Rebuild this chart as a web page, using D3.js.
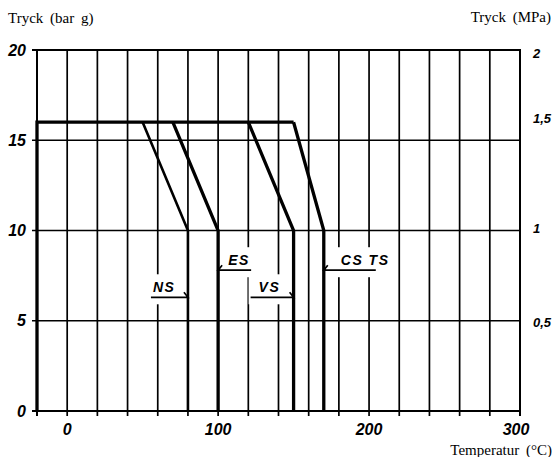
<!DOCTYPE html>
<meta charset="utf-8">
<style>
body { margin: 0; background: #fff; }
.title { font-family: "Liberation Serif", serif; font-size: 15px; word-spacing: 3px; fill: #000; }
.tick-l { font-family: "Liberation Sans", sans-serif; font-weight: bold; font-style: italic; font-size: 16px; }
.tick-r { font-family: "Liberation Sans", sans-serif; font-weight: bold; font-style: italic; font-size: 13px; }
.lbl { font-family: "Liberation Sans", sans-serif; font-weight: bold; font-style: italic; font-size: 14px; letter-spacing: 1.5px; }
</style>
<svg width="555" height="457"></svg>
<script src="https://d3js.org/d3.v7.min.js"></script>
<script>

// grid and tick values
var xGrid = [-20, 0, 20, 40, 60, 80, 100, 120, 140, 160, 180, 200, 220, 240, 260, 280, 300];
var xLabels = [0, 100, 200, 300];
var yGrid = [0, 5, 10, 15, 20];
var yLabels = [0, 5, 10, 15, 20];
var mpaLabels = ["0,5", "1", "1,5", "2"];
var mpaAt = [4.9, 10.1, 16.2, 19.8];   // where the MPa labels sit, in bar

// pressure / temperature curves
var envelope = [[-20, 0], [-20, 16], [150, 16]];
var names = ["NS", "ES", "VS", "CS TS"];
var tStart = [50, 70, 120, 150];   // temp where the curve leaves 16 bar
var tKnee = [80, 100, 150, 170];   // temp at 10 bar, then straight down
var pTop = 16, pKnee = 10;
var labelP = [6.3, 7.8, 6.3, 7.8]; // height of the label underline, bar

var svg = d3.select("svg");

var x = d3.scaleLinear().domain([-20, 300]).range([37, 520]);
var y = d3.scaleLinear().domain([0, 20]).range([411, 50]);

var g = svg.append("g");

// vertical grid lines (with little ticks under the axis)
g.append("g").selectAll("line")
  .data(xGrid)
  .enter().append("line")
    .attr("x1", function(d) { return x(d); })
    .attr("x2", function(d) { return x(d); })
    .attr("y1", y(0) + 5)
    .attr("y2", y(20))
    .attr("stroke", "#000")
    .attr("stroke-width", function(d) { return d == -20 || d == 300 ? 2 : 1.7; });

// horizontal grid lines
g.append("g").selectAll("line")
  .data(yGrid)
  .enter().append("line")
    .attr("x1", x(-20) - 5)
    .attr("x2", x(300) + 1)
    .attr("y1", function(d) { return y(d); })
    .attr("y2", function(d) { return y(d); })
    .attr("stroke", "#000")
    .attr("stroke-width", function(d) { return d == 0 || d == 20 ? 2 : 1.7; });

// tick labels
g.append("g").selectAll("text")
  .data(xLabels)
  .enter().append("text")
    .attr("class", "tick-l")
    .attr("x", function(d) { return d == 300 ? x(d) - 4 : x(d); })
    .attr("y", y(0) + 24)
    .attr("text-anchor", "middle")
    .text(function(d) { return d; });

g.append("g").selectAll("text")
  .data(yLabels)
  .enter().append("text")
    .attr("class", "tick-l")
    .attr("x", 26)
    .attr("y", function(d) { return y(d); })
    .attr("dy", "0.35em")
    .attr("text-anchor", "end")
    .text(function(d) { return d; });

g.append("g").selectAll("text")
  .data(mpaLabels)
  .enter().append("text")
    .attr("class", "tick-r")
    .attr("x", 533)
    .attr("y", function(d, i) { return y(mpaAt[i]); })
    .attr("dy", "0.35em")
    .text(function(d) { return d; });

// axis titles
svg.append("text").attr("class", "title").attr("x", 8).attr("y", 23).text("Tryck (bar g)");
svg.append("text").attr("class", "title").attr("x", 551).attr("y", 22)
  .attr("text-anchor", "end").text("Tryck (MPa)");
svg.append("text").attr("class", "title").attr("x", 552).attr("y", 455)
  .attr("text-anchor", "end").text("Temperatur (°C)");

// curve labels: white box behind, underline with a small hook at the line
var side = [-1, 1, -1, 1];
var lineLen = [37, 33, 43, 52];
var textDx = [-35, 10, -35, 17];

var labels = g.append("g").selectAll("g")
  .data(names)
  .enter().append("g");

labels.each(function(d, i) {
  var lg = d3.select(this),
      lx = x(tKnee[i]),
      uy = y(labelP[i]),
      ex = lx + side[i] * lineLen[i];
  var box = lg.append("rect").attr("fill", "#fff");
  lg.append("text")
    .attr("class", "lbl")
    .attr("x", lx + textDx[i])
    .attr("y", uy - 5)
    .text(d);
  var tb = lg.select("text").node().getBBox();
  var x0 = Math.min(lx, ex, tb.x), x1 = Math.max(lx, ex, tb.x + tb.width);
  box.attr("x", x0 - 2).attr("width", x1 - x0 + 4)
     .attr("y", uy - 23).attr("height", 30);
  lg.append("path")
    .attr("d", "M" + ex + "," + uy + "H" + lx + "l" + (side[i] * 4) + ",-5")
    .attr("fill", "none")
    .attr("stroke", "#000")
    .attr("stroke-width", 1.7);
});

// curves
var line = d3.line()
  .x(function(d) { return x(d[0]); })
  .y(function(d) { return y(d[1]); });

g.append("path")
  .attr("d", line(envelope))
  .attr("fill", "none")
  .attr("stroke", "#000")
  .attr("stroke-width", 3.3)
  .attr("stroke-linejoin", "miter");

g.append("g").selectAll("path")
  .data(names)
  .enter().append("path")
    .attr("d", function(d, i) {
      return line([[tStart[i], pTop], [tKnee[i], pKnee], [tKnee[i], 0]]);
    })
    .attr("fill", "none")
    .attr("stroke", "#000")
    .attr("stroke-width", function(d, i) { return i == 0 ? 2.6 : 3.3; })
    .attr("stroke-linejoin", "miter");

</script>
